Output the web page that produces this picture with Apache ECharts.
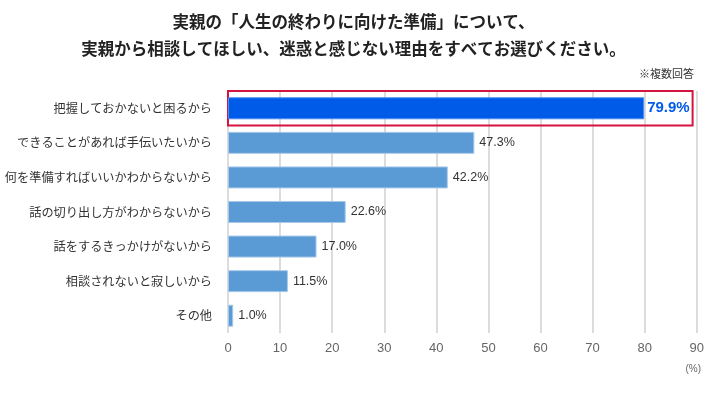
<!DOCTYPE html>
<html><head><meta charset="utf-8">
<script src="https://cdn.jsdelivr.net/npm/echarts@6/dist/echarts.min.js"></script>
<style>html,body{margin:0;padding:0;background:#fff}#c{width:707px;height:396px}</style>
</head><body><div id="c"></div>
<script>
const categories = ['把握しておかないと困るから','できることがあれば手伝いたいから','何を準備すればいいかわからないから','話の切り出し方がわからないから','話をするきっかけがないから','相談されないと寂しいから','その他'];
const values = [79.9, 47.3, 42.2, 22.6, 17.0, 11.5, 1.0];
const titleLines = ['実親の「人生の終わりに向けた準備」について、','実親から相談してほしい、迷惑と感じない理由をすべてお選びください。'];
const noteText = '※複数回答';
const unitText = '(%)';

const FONT = '"Noto Sans CJK JP", "Noto Sans", sans-serif';
const NUMFONT = '"Liberation Sans", Arial, sans-serif';
const chart = echarts.init(document.getElementById('c'), null, {renderer:'canvas'});
chart.setOption({
  animation:false,
  backgroundColor:'#fff',
  title:[
    {text:titleLines.join('\n'), left:'center', top:3, textStyle:{fontFamily:FONT, fontSize:16.5, fontWeight:'bold', color:'#222', lineHeight:27}},
    {text:noteText, right:8, top:63, textStyle:{fontFamily:FONT, fontSize:11, fontWeight:'normal', color:'#333'}},
    {text:unitText, right:1, top:359, textStyle:{fontFamily:NUMFONT, fontSize:10, fontWeight:'normal', color:'#666'}}
  ],
  grid:{left:228, right:7.5, top:91, bottom:63, containLabel:false},
  xAxis:{type:'value', min:0, max:90, interval:10,
    axisLine:{show:false}, axisTick:{show:false},
    axisLabel:{fontFamily:NUMFONT, fontSize:13, color:'#666', margin:9},
    splitLine:{show:true, lineStyle:{color:'#d0d0d0', width:1.5}}},
  yAxis:{type:'category', data:categories, inverse:true,
    axisLine:{show:false}, axisTick:{show:false},
    axisLabel:{fontFamily:FONT, fontSize:12.2, color:'#333', margin:16}},
  series:[{
    type:'bar', barWidth:22,
    data:values.map((v,i)=>({value:v,
      itemStyle:{color: i===0 ? '#005be8' : '#5b9bd5', borderColor: i===0 ? '#4d8cf0' : '#a9c9ea', borderWidth:1},
      label: i===0 ? {color:'#005be8', fontSize:15, fontWeight:'bold', distance:3} : {}
    })),
    label:{show:true, position:'right', distance:5, formatter:p=>p.value.toFixed(1)+'%', fontFamily:NUMFONT, fontSize:12.5, color:'#333'},
    markArea:{silent:true, itemStyle:{color:'rgba(0,0,0,0)', borderColor:'#d6123e', borderWidth:2},
      data:[[{yAxis:categories[0], xAxis:0},{yAxis:categories[0], xAxis:89.2}]]}
  }]
});
</script></body></html>
